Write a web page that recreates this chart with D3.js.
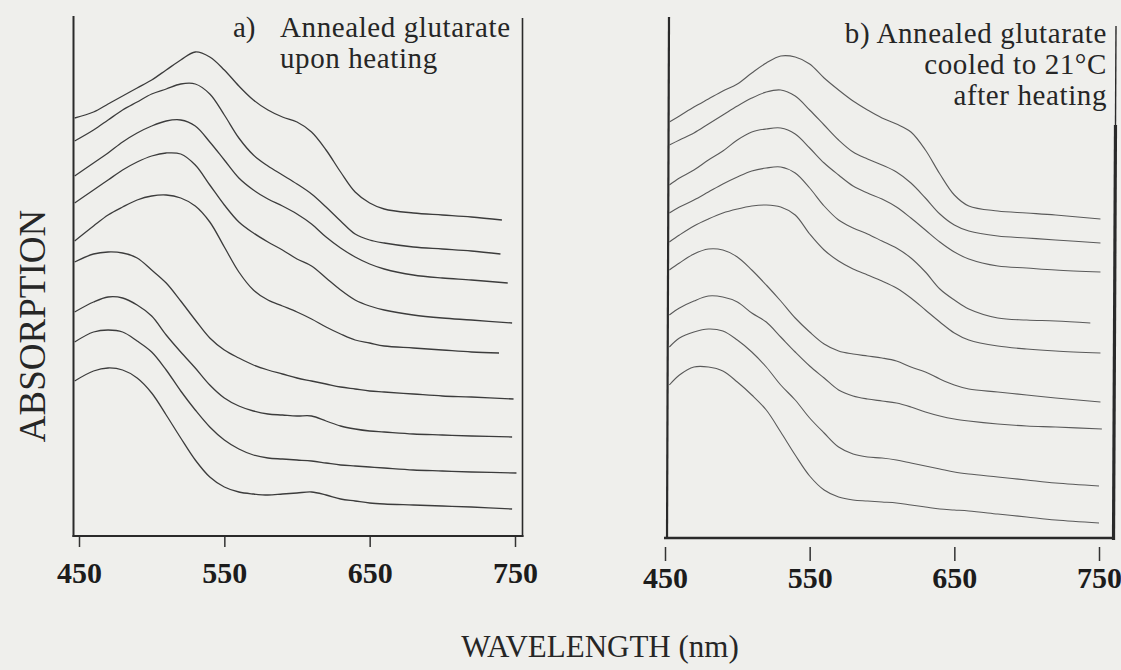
<!DOCTYPE html>
<html>
<head>
<meta charset="utf-8">
<script src="https://d3js.org/d3.v7.min.js"></script>
<style>
  body { margin: 0; background: #efefec; }
  svg { display: block; }
  .serif { font-family: "Liberation Serif", "Times New Roman", serif; fill: #262626; }
  .tick text { font-family: "Liberation Serif", "Times New Roman", serif; font-weight: bold; font-size: 30px; fill: #1c1c1c; }
  .tick line { stroke: #333; stroke-width: 1.5; }
</style>
</head>
<body>
<div id="chart"></div>
<script>
// ---- Data (absorption in arbitrary, offset units) ----

// panel a) wavelengths (nm); every trace also has its own last wavelength in endA
var waveA = [447, 460, 470, 480, 490, 500, 510, 520, 530, 540, 550, 560, 570, 580, 590, 600, 610, 620, 630, 640, 650, 660, 680, 700, 720];
var endA = [741, 740, 745, 748, 739, 749, 748, 751, 748];

var tracesA = [
  [42.2, 42.8, 43.6, 44.4, 45.2, 46.0, 47.0, 48.0, 48.8, 48.3, 47.0, 45.4, 44.0, 43.0, 42.3, 41.8, 40.8, 39.0, 36.8, 34.8, 33.7, 33.1, 32.7, 32.5, 32.3, 32.0],
  [39.9, 41.0, 42.0, 43.0, 43.8, 44.6, 45.1, 45.6, 45.6, 44.6, 42.5, 40.2, 38.5, 37.4, 36.5, 35.6, 34.6, 33.3, 31.9, 30.6, 30.0, 29.7, 29.3, 29.1, 28.9, 28.6],
  [36.4, 37.7, 38.7, 39.8, 40.7, 41.4, 41.9, 42.0, 41.4, 39.8, 38.0, 36.2, 35.0, 34.1, 33.4, 32.6, 31.6, 30.3, 29.2, 28.3, 27.6, 27.1, 26.5, 26.2, 26.0, 25.7],
  [33.7, 35.0, 36.0, 37.0, 37.8, 38.4, 38.7, 38.6, 37.5, 35.5, 33.5, 31.8, 30.7, 29.8, 29.0, 28.1, 27.4, 26.2, 25.0, 24.0, 23.4, 23.0, 22.5, 22.2, 22.0, 21.7],
  [29.9, 31.4, 32.5, 33.3, 34.0, 34.4, 34.5, 34.2, 33.4, 31.8, 29.3, 26.8, 25.0, 24.0, 23.4, 22.8, 22.1, 21.3, 20.6, 20.0, 19.7, 19.4, 19.2, 19.0, 18.8, 18.7],
  [27.8, 28.6, 28.8, 28.7, 28.2, 27.0, 25.7, 23.9, 22.0, 20.2, 19.0, 18.2, 17.5, 17.0, 16.6, 16.2, 15.9, 15.6, 15.3, 15.1, 14.9, 14.8, 14.6, 14.4, 14.3, 14.1],
  [22.8, 23.8, 24.3, 24.2, 23.5, 22.4, 20.5, 18.8, 17.2, 15.5, 14.2, 13.4, 12.9, 12.6, 12.5, 12.4, 12.4, 11.9, 11.4, 11.1, 10.9, 10.8, 10.6, 10.5, 10.4, 10.3],
  [19.8, 20.8, 21.0, 20.8, 19.9, 18.8, 17.0, 14.9, 13.0, 11.3, 10.0, 9.1, 8.5, 8.2, 8.1, 8.0, 7.9, 7.7, 7.5, 7.4, 7.3, 7.2, 7.0, 6.9, 6.8, 6.7],
  [15.9, 16.9, 17.2, 17.0, 16.2, 14.7, 12.5, 10.2, 8.0, 6.3, 5.3, 4.8, 4.6, 4.5, 4.6, 4.7, 4.8, 4.5, 4.1, 3.9, 3.7, 3.6, 3.5, 3.4, 3.3, 3.1]
];

// panel b) wavelengths (nm)
var waveB = [453, 460, 470, 480, 490, 500, 510, 520, 530, 540, 550, 560, 570, 580, 590, 600, 610, 620, 630, 640, 650, 660, 680, 700, 720];
var endB = [751, 751, 751, 744, 751, 751, 752, 750, 750];

var tracesB = [
  [41.8, 42.4, 43.3, 44.1, 44.9, 45.6, 46.7, 47.7, 48.4, 48.3, 47.6, 46.2, 45.0, 43.9, 43.0, 42.2, 41.6, 40.8, 39.0, 36.6, 34.5, 33.4, 32.9, 32.7, 32.5, 32.1],
  [39.5, 40.0, 40.7, 41.6, 42.5, 43.4, 44.2, 44.8, 45.0, 44.4, 43.0, 41.5, 40.0, 38.8, 38.1, 37.5, 36.8, 35.7, 34.2, 32.6, 31.5, 30.9, 30.4, 30.2, 30.0, 29.7],
  [35.5, 36.2, 37.0, 38.0, 38.9, 40.0, 40.8, 41.1, 41.2, 40.6, 39.2, 37.7, 36.5, 35.4, 34.7, 34.1, 33.3, 32.2, 31.0, 29.8, 28.8, 28.1, 27.4, 27.2, 27.0, 26.8],
  [32.7, 33.3, 34.0, 34.8, 35.6, 36.3, 36.9, 37.2, 37.3, 36.7, 35.2, 33.4, 32.0, 31.2, 30.6, 29.9, 29.2, 28.2, 26.8, 25.1, 24.0, 23.1, 22.2, 22.0, 21.9, 21.7],
  [29.8, 30.5, 31.4, 32.1, 32.7, 33.1, 33.4, 33.5, 33.3, 32.5, 30.6, 29.0, 27.9, 27.1, 26.5, 25.9, 25.2, 24.2, 23.0, 21.8, 20.7, 20.0, 19.4, 19.1, 18.9, 18.7],
  [27.0, 27.7, 28.6, 29.1, 29.0, 28.3, 27.0, 25.5, 23.9, 22.2, 20.8, 19.6, 18.9, 18.6, 18.4, 18.2, 17.9, 17.3, 16.8, 16.1, 15.5, 15.1, 14.8, 14.5, 14.2, 13.8],
  [22.5, 23.2, 23.9, 24.4, 24.3, 23.8, 22.7, 21.8, 20.3, 18.8, 17.4, 16.2, 15.0, 14.4, 14.1, 13.9, 13.7, 13.3, 12.8, 12.4, 12.1, 11.9, 11.6, 11.4, 11.3, 11.1],
  [19.3, 20.2, 20.8, 21.1, 20.9, 20.0, 18.8, 17.3, 15.5, 14.0, 12.2, 10.7, 9.3, 8.6, 8.3, 8.2, 8.0, 7.7, 7.4, 7.1, 6.8, 6.6, 6.3, 6.0, 5.7, 5.4],
  [15.5, 16.5, 17.3, 17.3, 16.9, 15.8, 14.5, 13.0, 10.8, 8.5, 6.4, 5.0, 4.3, 4.0, 3.9, 3.8, 3.7, 3.5, 3.3, 3.1, 3.0, 2.9, 2.6, 2.3, 2.0, 1.7]
];

var tickValues = [450, 550, 650, 750];

// ---- Set up the svg ----
var svgWidth = 1121;
var svgHeight = 670;

var svg = d3.select("#chart")
  .append("svg")
  .attr("width", svgWidth)
  .attr("height", svgHeight);

// shared vertical scale (both panels use the same stacking)
var yScale = d3.scaleLinear().domain([0, 52.4]).range([540, 16]);

// x scales, one per panel
var xA = d3.scaleLinear().domain([450, 750]).range([79, 515]);
var xB = d3.scaleLinear().domain([450, 750]).range([665, 1099]);

// turn a trace into {w, a} points
function toPoints(waves, values, end) {
  var w = waves.concat([end]);
  return values.map(function (v, i) { return { w: w[i], a: v }; });
}

function drawTraces(xScale, waves, traces, ends, color, width) {
  var line = d3.line()
    .x(function (d) { return xScale(d.w); })
    .y(function (d) { return yScale(d.a); })
    .curve(d3.curveCatmullRom);

  svg.append("g")
    .selectAll("path")
    .data(traces)
    .enter()
    .append("path")
    .attr("d", function (d, i) { return line(toPoints(waves, d, ends[i])); })
    .attr("fill", "none")
    .attr("stroke", color)
    .attr("stroke-width", width)
    .attr("stroke-linejoin", "round");
}

function frameLine(x1, y1, x2, y2, w) {
  svg.append("line")
    .attr("x1", x1).attr("y1", y1)
    .attr("x2", x2).attr("y2", y2)
    .attr("stroke", "#2a2a2a")
    .attr("stroke-width", w);
}

// ---- Panel a ----
frameLine(73.5, 16, 73.5, 537, 2);
frameLine(522.5, 18, 522.5, 537, 1.6);
frameLine(72.5, 536, 523.5, 536, 2.2);

drawTraces(xA, waveA, tracesA, endA, "#3c3c3c", 1.3);

svg.append("g")
  .attr("transform", "translate(0,537)")
  .call(d3.axisBottom(xA).tickValues(tickValues).tickSize(10).tickPadding(15))
  .call(function (g) { g.select(".domain").remove(); });

// ---- Panel b ----
frameLine(669, 17, 667, 539, 2.2);
frameLine(664, 538, 1114, 538, 2.4);
frameLine(1116, 26, 1115.5, 125, 1.4);
frameLine(1115.5, 125, 1113.5, 540, 3.2);

drawTraces(xB, waveB, tracesB, endB, "#5a5a5a", 1.1);

svg.append("g")
  .attr("transform", "translate(0,547)")
  .call(d3.axisBottom(xB).tickValues(tickValues).tickSize(14).tickPadding(6))
  .call(function (g) { g.select(".domain").remove(); });

// ---- Panel titles ----
svg.append("text").attr("class", "serif")
  .attr("x", 233).attr("y", 37)
  .attr("font-size", 29)
  .text("a)");

var titleA = ["Annealed glutarate", "upon heating"];
svg.append("g")
  .selectAll("text")
  .data(titleA)
  .enter()
  .append("text")
  .attr("class", "serif")
  .attr("x", 280)
  .attr("y", function (d, i) { return 37 + i * 31; })
  .attr("font-size", 29)
  .attr("letter-spacing", 0.6)
  .text(function (d) { return d; });

var titleB = ["b) Annealed glutarate", "cooled to 21°C", "after heating"];
svg.append("g")
  .selectAll("text")
  .data(titleB)
  .enter()
  .append("text")
  .attr("class", "serif")
  .attr("x", 1107)
  .attr("y", function (d, i) { return 43 + i * 31; })
  .attr("text-anchor", "end")
  .attr("font-size", 29)
  .attr("letter-spacing", 0.6)
  .text(function (d) { return d; });

// ---- Axis titles ----
svg.append("text").attr("class", "serif")
  .attr("transform", "translate(45,326)rotate(-90)")
  .attr("text-anchor", "middle")
  .attr("font-size", 37)
  .text("ABSORPTION");

svg.append("text").attr("class", "serif")
  .attr("x", 600).attr("y", 657)
  .attr("text-anchor", "middle")
  .attr("font-size", 31)
  .text("WAVELENGTH (nm)");
</script>
</body>
</html>
